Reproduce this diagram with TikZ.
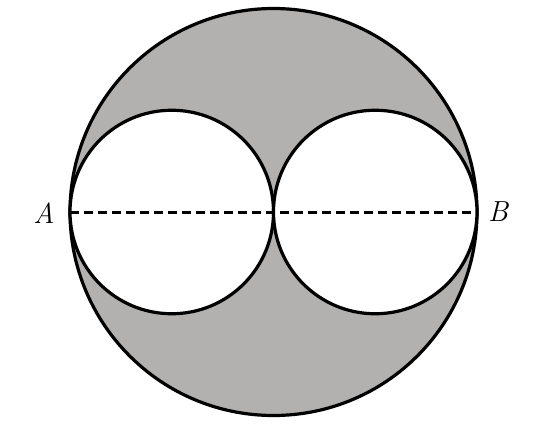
\documentclass[tikz,border=0pt]{standalone}
\usepackage{fontspec}
\definecolor{shade}{RGB}{179,177,176}
\tikzset{
	rand/.style={line width=3.2pt},
	strich/.style={line width=3pt, dash pattern=on 9pt off 5pt},
	punkt/.style={font=\fontsize{29}{33}\selectfont\itshape}
}
\begin{document}
\begin{tikzpicture}[x=1pt,y=1pt]
		\useasboundingbox (0,0) rectangle (549,424);
		%grosser kreis
		\coordinate (M) at (273.5,212);
		\filldraw[rand, fill=shade] (M) circle (203.5);
		%kleine kreise
		\coordinate (M1) at (171.75,212);
		\coordinate (M2) at (375.25,212);
		\filldraw[rand, fill=white] (M1) circle (101.75);
		\filldraw[rand, fill=white] (M2) circle (101.75);
		%strecke
		\coordinate (A) at (70,212);
		\coordinate (B) at (477,212);
		\draw[strich] (A) -- (B);
		\node[punkt] (lA) at (44,211) {A};
		\node[punkt] (lB) at (498,212) {B};
	\end{tikzpicture}
\end{document}
